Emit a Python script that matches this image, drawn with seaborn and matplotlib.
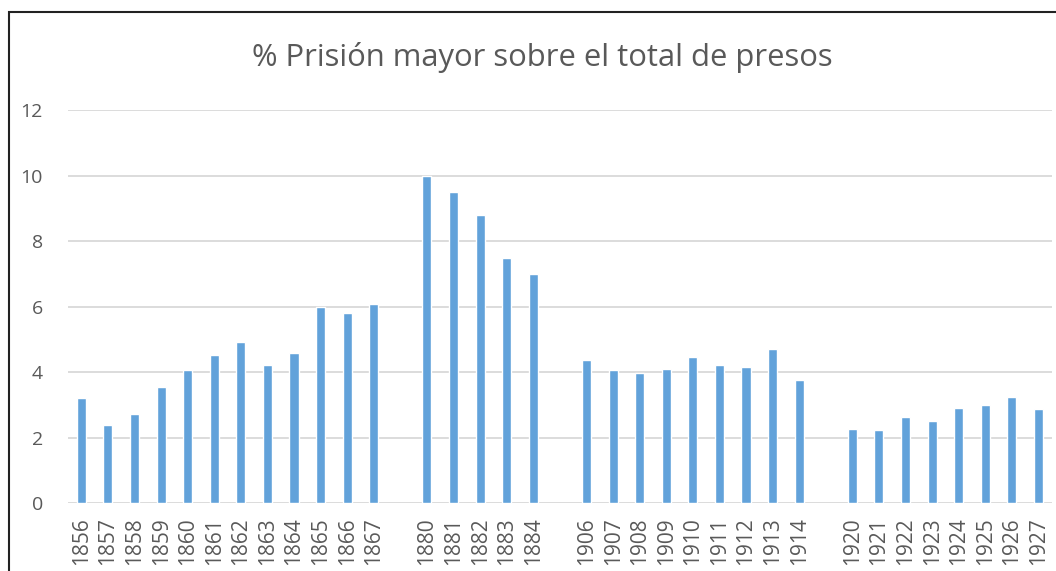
import numpy as np
import pandas as pd
import matplotlib
matplotlib.use("Agg")
import matplotlib.pyplot as plt
import seaborn as sns
from matplotlib.patches import Rectangle

# ── Data ──────────────────────────────────────────────────────────────────────
years_1 = ["1856", "1857", "1858", "1859", "1860", "1861", "1862", "1863",
           "1864", "1865", "1866", "1867"]
vals_1 = [3.2, 2.38, 2.72, 3.54, 4.06, 4.52, 4.92, 4.21, 4.58, 5.98, 5.80, 6.08]

years_2 = ["1880", "1881", "1882", "1883", "1884"]
vals_2 = [10.0, 9.5, 8.8, 7.48, 6.99]

years_3 = ["1906", "1907", "1908", "1909", "1910", "1911", "1912", "1913", "1914"]
vals_3 = [4.36, 4.05, 3.98, 4.09, 4.47, 4.21, 4.17, 4.72, 3.76]

years_4 = ["1920", "1921", "1922", "1923", "1924", "1925", "1926", "1927"]
vals_4 = [2.26, 2.22, 2.64, 2.52, 2.90, 2.98, 3.23, 2.86]

title = "% Prisión mayor sobre el total de presos"

# empty slots between the periods
labels, values = [], []
for i, (ys, vs) in enumerate([(years_1, vals_1), (years_2, vals_2),
                              (years_3, vals_3), (years_4, vals_4)]):
    if i > 0:
        labels.append(" " * i)
        values.append(np.nan)
    labels += ys
    values += vs
df = pd.DataFrame({"year": labels, "pct": values})

# ── Style ─────────────────────────────────────────────────────────────────────
sns.set_theme(style="white")
plt.rcParams["font.family"] = ["Open Sans", "DejaVu Sans"]
GREY = "#595959"
BLUE = "#62a2da"

fig = plt.figure(figsize=(10.56, 5.71), dpi=100)
ax = fig.add_axes([0.0644, 0.119, 0.9316, 0.688])

sns.barplot(data=df.dropna(), x="year", y="pct", order=labels, color=BLUE,
            width=0.34, saturation=1, ax=ax)

ax.set_ylim(0, 12)
ax.set_yticks(range(0, 13, 2))
ax.set_xlim(-0.5, len(labels) - 0.5)
ax.yaxis.grid(True, color="#d9d9d9", linewidth=1.3)
ax.set_axisbelow(True)
for s in ax.spines.values():
    s.set_visible(False)
ax.set_xlabel("")
ax.set_ylabel("")
ax.tick_params(axis="both", length=0, colors=GREY)
ax.tick_params(axis="y", pad=18, labelsize=14)
ax.tick_params(axis="x", pad=10, labelsize=15)
plt.setp(ax.get_xticklabels(), rotation=90)

fig.text(0.514, 0.899, title, ha="center", va="center", fontsize=22.3, color=GREY)

# outer frame (cut at the right and bottom edge)
fig.patches.append(Rectangle((9 / 1056, -0.1), 1.2, 1 - 12 / 571 + 0.1,
                             transform=fig.transFigure, fill=False,
                             edgecolor="#222222", linewidth=1.5))

plt.savefig("out.png", dpi=100)
plt.close()
